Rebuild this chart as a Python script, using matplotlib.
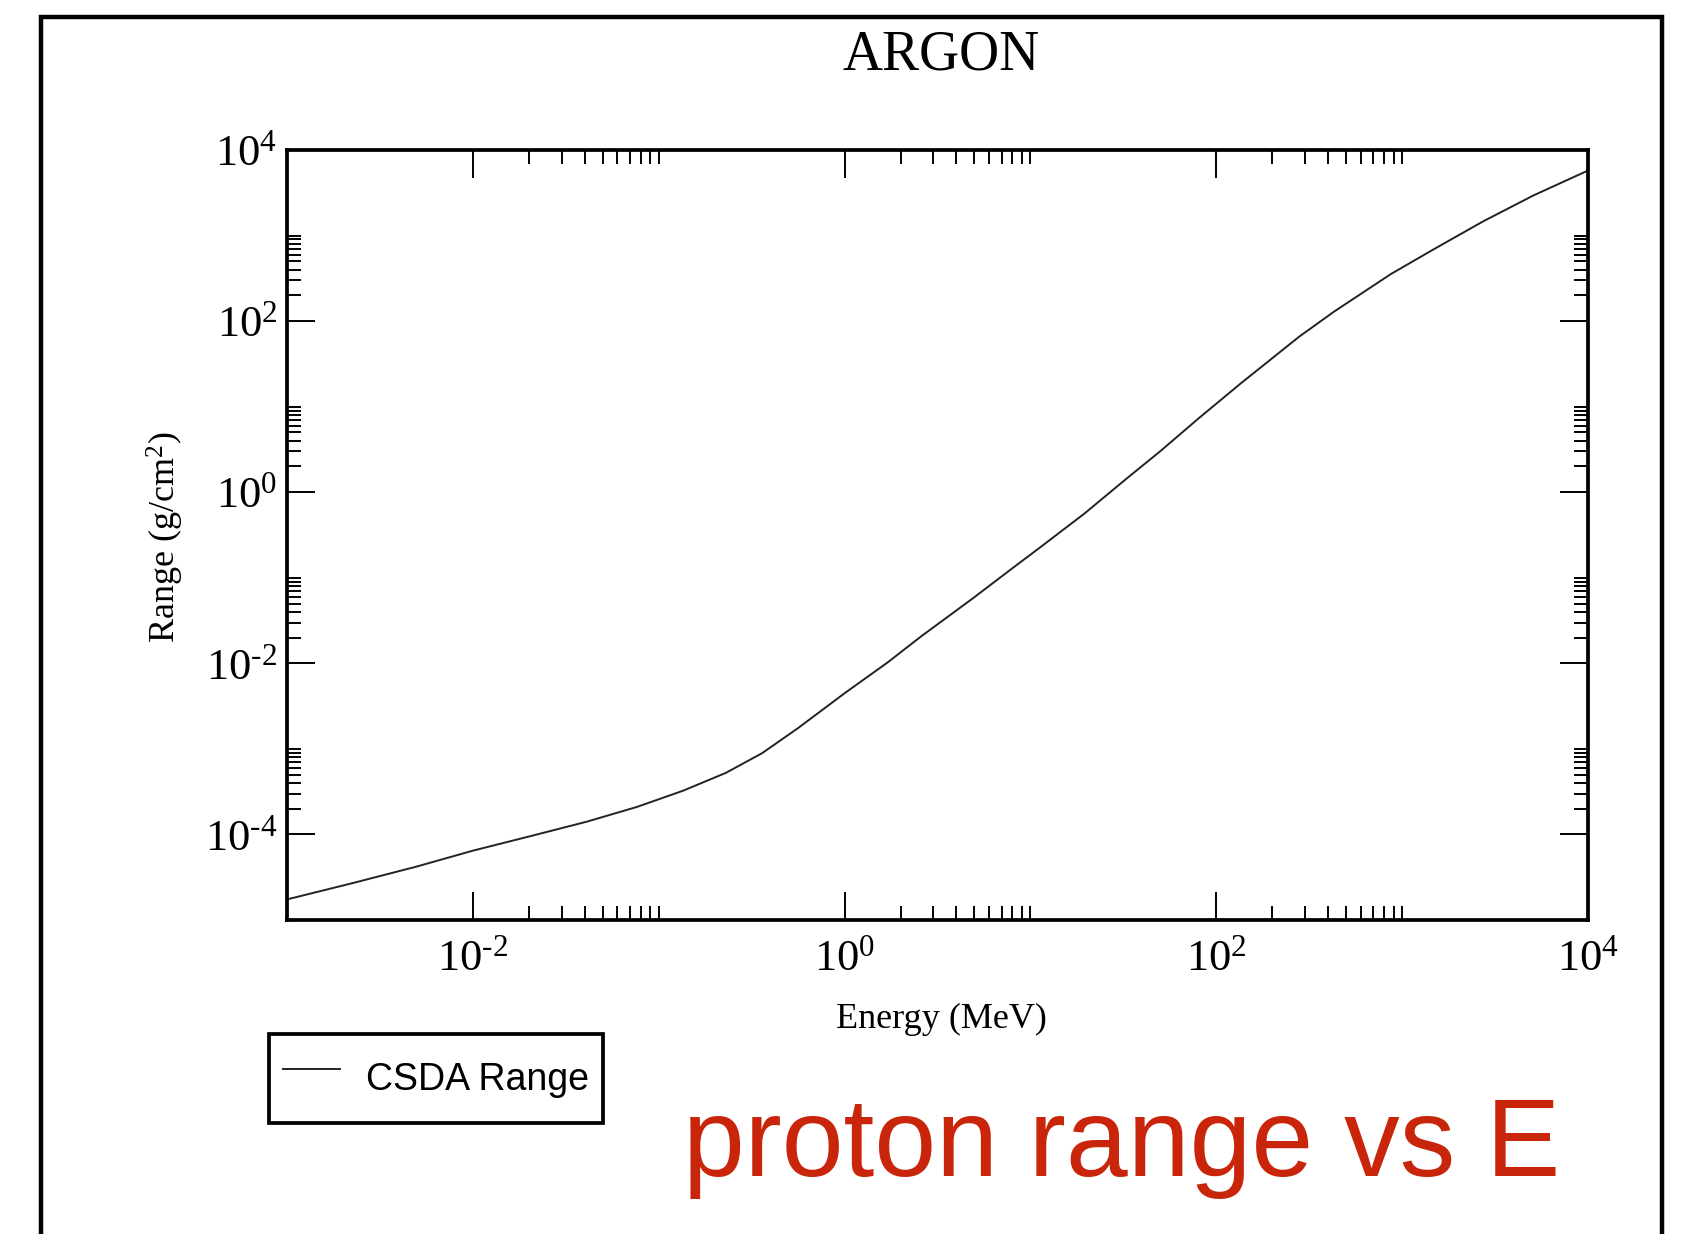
import numpy as np
import matplotlib
matplotlib.use("Agg")
import matplotlib.pyplot as plt
from matplotlib.patches import Rectangle
from matplotlib.ticker import FixedLocator, FixedFormatter

# ---------------------------------------------------------
# Data: proton CSDA range in argon
# ---------------------------------------------------------
energy_mev = [0.001, 0.00224, 0.0049, 0.01, 0.0204, 0.041, 0.076, 0.135,
              0.23, 0.36, 0.56, 1.0, 1.7, 2.6, 4.9, 8.1, 11.2, 19.5, 33.0,
              50.0, 81.0, 135.0, 280.0, 430.0, 870.0, 1480.0, 2750.0,
              5100.0, 10000.0]
csda_range = [1.74e-5, 2.69e-5, 4.17e-5, 6.46e-5, 9.55e-5, 1.41e-4, 2.09e-4,
              3.24e-4, 5.25e-4, 8.91e-4, 1.74e-3, 4.47e-3, 1.02e-2, 2.09e-2,
              5.75e-2, 0.132, 0.224, 0.562, 1.45, 3.02, 7.41, 18.6, 66.1,
              129.0, 355.0, 692.0, 1479.0, 2951.0, 5754.0]

x_major_exp = [-2, 0, 2, 4]
y_major_exp = [-4, -2, 0, 2, 4]
x_minor_exp = [-2, 0, 2]
y_minor_exp = [-4, -2, 0, 2]

title = "ARGON"
x_label = "Energy (MeV)"
y_label = "Range (g/cm$^{2}$)"
legend_label = "CSDA Range"
note = "proton range vs E"

# ---------------------------------------------------------
# Figure
# ---------------------------------------------------------
W, H = 1685, 1234
plt.rcParams["font.family"] = ["Liberation Serif", "DejaVu Serif"]
plt.rcParams["mathtext.fontset"] = "custom"
plt.rcParams["mathtext.rm"] = "Liberation Serif"
plt.rcParams["mathtext.it"] = "Liberation Serif:italic"

fig = plt.figure(figsize=(W / 100, H / 100), dpi=100)
fig.patch.set_facecolor("white")

# outer frame (bottom edge runs off the page)
fig.patches.append(Rectangle((41 / W, -0.05), (1662 - 41) / W, 1 - 17 / H + 0.05,
                             transform=fig.transFigure, fill=False,
                             edgecolor="black", linewidth=3.2, clip_on=False))

ax = fig.add_axes([287 / W, 1 - 920 / H, 1301 / W, 770 / H])
line, = ax.plot(energy_mev, csda_range, color="#222222", linewidth=1.4,
                label=legend_label)

ax.set_xscale("log")
ax.set_yscale("log")
ax.set_xlim(1e-3, 1e4)
ax.set_ylim(1e-5, 1e4)


def major_labels(exps):
    # xmgrace style: short hyphen instead of a long minus
    out = []
    for e in exps:
        if e < 0:
            out.append(r"$10^{\text{-}%d}$" % abs(e))
        else:
            out.append("$10^{%d}$" % e)
    return out


ax.xaxis.set_major_locator(FixedLocator([10.0 ** e for e in x_major_exp]))
ax.xaxis.set_major_formatter(FixedFormatter(major_labels(x_major_exp)))
ax.yaxis.set_major_locator(FixedLocator([10.0 ** e for e in y_major_exp]))
ax.yaxis.set_major_formatter(FixedFormatter(major_labels(y_major_exp)))

ax.xaxis.set_minor_locator(FixedLocator([m * 10.0 ** e for e in x_minor_exp for m in range(2, 11)]))
ax.yaxis.set_minor_locator(FixedLocator([m * 10.0 ** e for e in y_minor_exp for m in range(2, 11)]))
ax.xaxis.set_minor_formatter(FixedFormatter([]))
ax.yaxis.set_minor_formatter(FixedFormatter([]))

for s in ax.spines.values():
    s.set_linewidth(2.7)

ax.tick_params(which="both", direction="in", top=True, right=True, colors="black")
ax.tick_params(which="major", length=20, width=1.4, labelsize=32)
ax.tick_params(which="minor", length=10, width=1.4)
ax.tick_params(axis="x", which="major", pad=14)
ax.tick_params(axis="y", which="major", pad=7)

fig.text(941 / W, 1 - 70 / H, title, fontsize=40, ha="center", va="baseline")
fig.text(941 / W, 1 - 1019 / H, x_label, fontsize=26, ha="center", va="center")
fig.text(165 / W, 1 - 537 / H, y_label, fontsize=26, ha="center", va="center",
         rotation=90)

leg = fig.legend(handles=[line], loc="upper left",
                 bbox_to_anchor=(269 / W, 1 - 1034 / H),
                 prop={"family": "Liberation Sans", "size": 27},
                 frameon=True, fancybox=False, framealpha=1, edgecolor="black",
                 borderaxespad=0, borderpad=0.38, handlelength=1.52,
                 handletextpad=0.68, handleheight=2.1)
leg.get_frame().set_linewidth(2.7)

fig.text(683 / W, 1 - 1176 / H, note, fontsize=80, color="#C9250A",
         family="Liberation Sans", ha="left", va="baseline")

fig.savefig("out.png", dpi=100)
